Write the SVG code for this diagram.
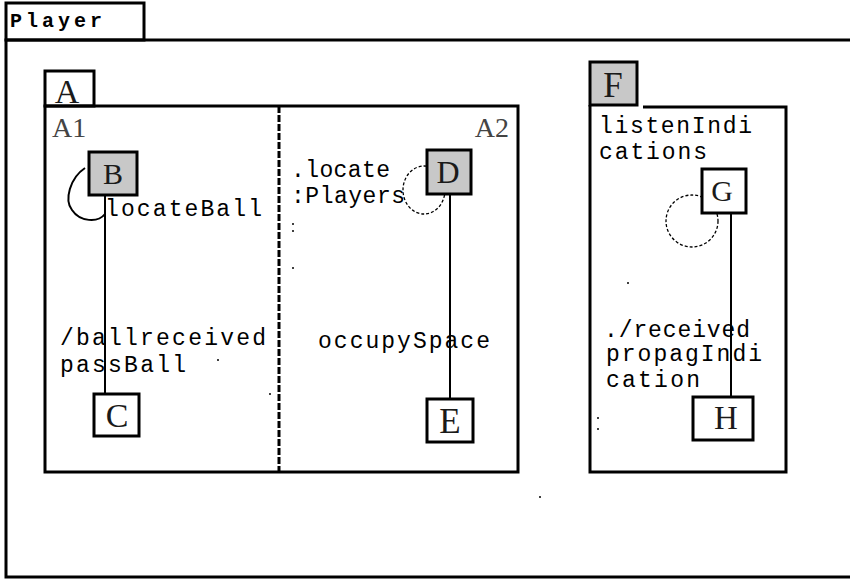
<svg xmlns="http://www.w3.org/2000/svg" width="850" height="579" viewBox="0 0 850 579">
<style>
.frame{fill:none;stroke:#000;stroke-width:3}
.box{stroke:#000;stroke-width:3}
.grey{fill:#c8c8c8}
.white{fill:#fff}
.lbl{font-family:"Liberation Serif","Times New Roman",serif;fill:#1a1a1a;text-anchor:middle}
.sub{font-family:"Liberation Serif","Times New Roman",serif;fill:#444;font-size:28px}
.mono{font-family:"Liberation Mono","Courier New",monospace;font-size:23px;fill:#000}
.edge{fill:none;stroke:#000;stroke-width:2}
.dash{fill:none;stroke:#000;stroke-width:1.3;stroke-dasharray:3 2}
.dot{fill:#000}
</style>
<rect width="850" height="579" fill="#fff"/>
<g id="Player">
  <rect class="frame" x="6" y="3" width="138" height="37"/>
  <rect class="frame" x="6" y="40" width="900" height="537"/>
  <text x="10" y="27" font-family="Liberation Mono,Courier New,monospace" font-size="20" font-weight="bold" textLength="92" lengthAdjust="spacing">Player</text>
</g>
<g id="A">
  <rect class="frame" x="45" y="71" width="49" height="35"/>
  <rect class="frame" x="45" y="106" width="473" height="366"/>
  <text class="lbl" x="67" y="103" font-size="34">A</text>
  <line x1="279" y1="106" x2="279" y2="472" stroke="#000" stroke-width="3" stroke-dasharray="7 2"/>
  <text class="sub" x="52" y="137">A1</text>
  <text class="sub" x="509" y="137" text-anchor="end">A2</text>
</g>
<g id="F">
  <rect class="box grey" x="590" y="62" width="47" height="43"/>
  <path class="frame" d="M643 107 H786 V472 H590 V105"/>
  <text class="lbl" x="613" y="97" font-size="35">F</text>
</g>
<g id="connectors">
  <line class="edge" x1="105" y1="195" x2="105" y2="393"/>
  <path class="edge" d="M85 168 C70 178 64 200 72 210 C80 222 98 223 105 214"/>
  <line class="edge" x1="450" y1="195" x2="450" y2="398"/>
  <ellipse class="dash" cx="424" cy="190" rx="21" ry="24"/>
  <line class="edge" x1="731" y1="214" x2="731" y2="396"/>
  <circle class="dash" cx="692" cy="221" r="26"/>
</g>
<g id="B">
  <rect class="box grey" x="89" y="152" width="48" height="43"/>
  <text class="lbl" x="113" y="184" font-size="30">B</text>
</g>
<g id="C">
  <rect class="box white" x="94" y="394" width="45" height="42"/>
  <text class="lbl" x="117" y="427" font-size="34">C</text>
</g>
<g id="D">
  <rect class="box grey" x="427" y="150" width="44" height="44"/>
  <text class="lbl" x="448" y="183" font-size="32">D</text>
</g>
<g id="E">
  <rect class="box white" x="427" y="399" width="46" height="43"/>
  <text class="lbl" x="450" y="433" font-size="35">E</text>
</g>
<g id="G">
  <rect class="box white" x="702" y="169" width="44" height="44"/>
  <text class="lbl" x="722" y="201" font-size="30">G</text>
</g>
<g id="H">
  <rect class="box white" x="693" y="397" width="60" height="43"/>
  <text class="lbl" x="726" y="429" font-size="33">H</text>
</g>
<g id="labels">
  <text class="mono" x="105" y="216" textLength="157" lengthAdjust="spacing">locateBall</text>
  <text class="mono" x="60" y="345" textLength="206" lengthAdjust="spacing">/ballreceived</text>
  <text class="mono" x="60" y="372" textLength="126" lengthAdjust="spacing">passBall</text>
  <text class="mono" x="291" y="177" textLength="99" lengthAdjust="spacing">.locate</text>
  <text class="mono" x="291" y="203" textLength="114" lengthAdjust="spacing">:Players</text>
  <text class="mono" x="318" y="348" textLength="172" lengthAdjust="spacing">occupySpace</text>
  <text class="mono" x="599" y="133" textLength="153" lengthAdjust="spacing">listenIndi</text>
  <text class="mono" x="599" y="159" textLength="108" lengthAdjust="spacing">cations</text>
  <text class="mono" x="604" y="337" textLength="146" lengthAdjust="spacing">./received</text>
  <text class="mono" x="606" y="361" textLength="156" lengthAdjust="spacing">propagIndi</text>
  <text class="mono" x="606" y="387" textLength="94" lengthAdjust="spacing">cation</text>
</g>
<g id="specks">
  <circle class="dot" cx="293" cy="224" r="1"/>
  <circle class="dot" cx="293" cy="231" r="1"/>
  <circle class="dot" cx="293" cy="268" r="1"/>
  <circle class="dot" cx="218" cy="360" r="1"/>
  <circle class="dot" cx="270" cy="394" r="1"/>
  <circle class="dot" cx="628" cy="283" r="1"/>
  <circle class="dot" cx="598" cy="418" r="1"/>
  <circle class="dot" cx="598" cy="429" r="1"/>
  <circle class="dot" cx="540" cy="497" r="1"/>
</g>
</svg>
